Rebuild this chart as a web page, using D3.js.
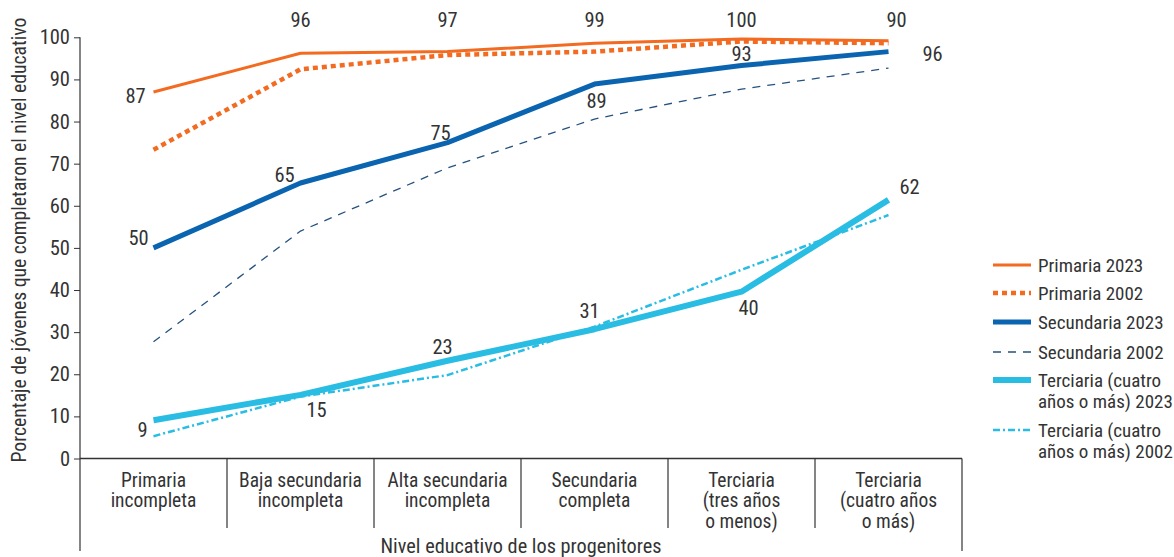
<!DOCTYPE html>
<html><head><meta charset="utf-8">
<script src="https://cdn.jsdelivr.net/npm/d3@7"></script>
<style>
body{margin:0;background:#fff;}
svg text{font-family:"Roboto Condensed","Roboto",sans-serif;fill:#333;}
</style></head>
<body><svg id="c" width="1174" height="557"></svg>
<script>
const categories = [["Primaria","incompleta"],["Baja secundaria","incompleta"],["Alta secundaria","incompleta"],["Secundaria","completa"],["Terciaria","(tres años","o menos)"],["Terciaria","(cuatro años","o más)"]];
const yTicks = [0,10,20,30,40,50,60,70,80,90,100];
const primaria2023 = [87,96.2,96.6,98.6,99.6,99.2];
const primaria2002 = [73.3,92.4,95.8,96.6,99.0,98.6];
const secundaria2023 = [50,65.4,75,88.9,93.3,96.6];
const secundaria2002 = [27.7,54,69,80.6,87.7,92.7];
const terciaria2023 = [9.1,15.1,23.2,30.7,39.6,61.4];
const terciaria2002 = [5.3,14.7,19.8,31.3,44.8,57.8];
const primariaLabels = ["87","96","97","99","100","90"];
const secundariaLabels = ["50","65","75","89","93","96"];
const terciariaLabels = ["9","15","23","31","40","62"];
const legendNames = [["Primaria 2023"],["Primaria 2002"],["Secundaria 2023"],["Secundaria 2002"],["Terciaria (cuatro","años o más) 2023"],["Terciaria (cuatro","años o más) 2002"]];

const FONT = '"Roboto Condensed","Roboto",sans-serif';
const svg = d3.select("#c");
const x = d3.scaleBand().domain(d3.range(categories.length)).range([80,962]).padding(0);
const y = d3.scaleLinear().domain([0,100]).range([458.5,37.3]);
const cx = i => x(i) + x.bandwidth()/2;

const styles = [
  {data:primaria2023,color:"#F26B21",w:3,dash:null},
  {data:primaria2002,color:"#F26B21",w:4.5,dash:"5,4"},
  {data:secundaria2023,color:"#0A64B0",w:5,dash:null},
  {data:secundaria2002,color:"#24517F",w:1.3,dash:"8,7"},
  {data:terciaria2023,color:"#29BDE3",w:6,dash:null},
  {data:terciaria2002,color:"#29BDE3",w:2.5,dash:"7,3,2,3"}
];

// Y axis
const yAxis = d3.axisLeft(y).tickValues(yTicks).tickSize(6).tickPadding(4);
const gy = svg.append("g").attr("transform","translate(80,0)").call(yAxis);
gy.select(".domain").remove();
gy.selectAll(".tick line").attr("stroke","#333");
gy.selectAll(".tick text").attr("font-size",20.5).style("font-family",FONT).attr("fill","#333");
svg.append("line").attr("x1",80).attr("x2",80).attr("y1",y(100)).attr("y2",551).attr("stroke","#333").attr("stroke-width",1.2);

// X axis
svg.append("line").attr("x1",80).attr("x2",962).attr("y1",y(0)).attr("y2",y(0)).attr("stroke","#333").attr("stroke-width",1.5);
categories.forEach((c,i)=>{
  if(i>0) svg.append("line").attr("x1",x(i)).attr("x2",x(i)).attr("y1",y(0)).attr("y2",528).attr("stroke","#333").attr("stroke-width",1.2);
  const t = svg.append("text").attr("x",cx(i)).attr("y",486.5).attr("text-anchor","middle").attr("font-size",19.5);
  c.forEach((s,k)=>t.append("tspan").attr("x",cx(i)).attr("dy",k?20.7:0).text(s));
});
svg.append("line").attr("x1",962).attr("x2",962).attr("y1",y(0)).attr("y2",551).attr("stroke","#333").attr("stroke-width",1.2);
svg.append("text").attr("x",521).attr("y",553).attr("text-anchor","middle").attr("font-size",20.3).text("Nivel educativo de los progenitores");

svg.append("text").attr("transform","translate(26,240) rotate(-90)").attr("text-anchor","middle").attr("font-size",19.7).text("Porcentaje de jóvenes que completaron el nivel educativo");

// Lines
const line = d3.line().x((d,i)=>cx(i)).y(d=>y(d));
styles.forEach(s=>{
  svg.append("path").attr("d",line(s.data)).attr("fill","none").attr("stroke",s.color)
    .attr("stroke-width",s.w).attr("stroke-dasharray",s.dash).attr("stroke-linejoin","round");
});

// Data labels (offsets dx, dy relative to point)
const primOff = [[-18,4],[0,-33],[0,-32],[0,-23],[0,-19],[8,-21]];
const secOff = [[-15,-10],[-16,-8],[-7,-10],[2,17],[0,-12],[44,2]];
const terOff = [[-11,10],[16,15],[-5,-14],[-5,-18],[7,16],[21,-13]];
function labels(data,texts,off){
  data.forEach((v,i)=>{
    svg.append("text").attr("x",cx(i)+off[i][0]).attr("y",y(v)+off[i][1]).attr("text-anchor","middle")
      .attr("font-size",20.5).attr("dominant-baseline","central").text(texts[i]);
  });
}
labels(primaria2023,primariaLabels,primOff);
labels(secundaria2023,secundariaLabels,secOff);
labels(terciaria2023,terciariaLabels,terOff);

// Legend
const legY = [265,293,322,352,380,430];
styles.forEach((s,i)=>{
  svg.append("line").attr("x1",993).attr("x2",1031).attr("y1",legY[i]).attr("y2",legY[i])
    .attr("stroke",s.color).attr("stroke-width",s.w).attr("stroke-dasharray",s.dash);
  const t = svg.append("text").attr("x",1038).attr("y",legY[i]).attr("font-size",19).attr("dominant-baseline","central");
  legendNames[i].forEach((n,k)=>t.append("tspan").attr("x",1038).attr("dy",k?20.5:0).text(n));
});
</script></body></html>
